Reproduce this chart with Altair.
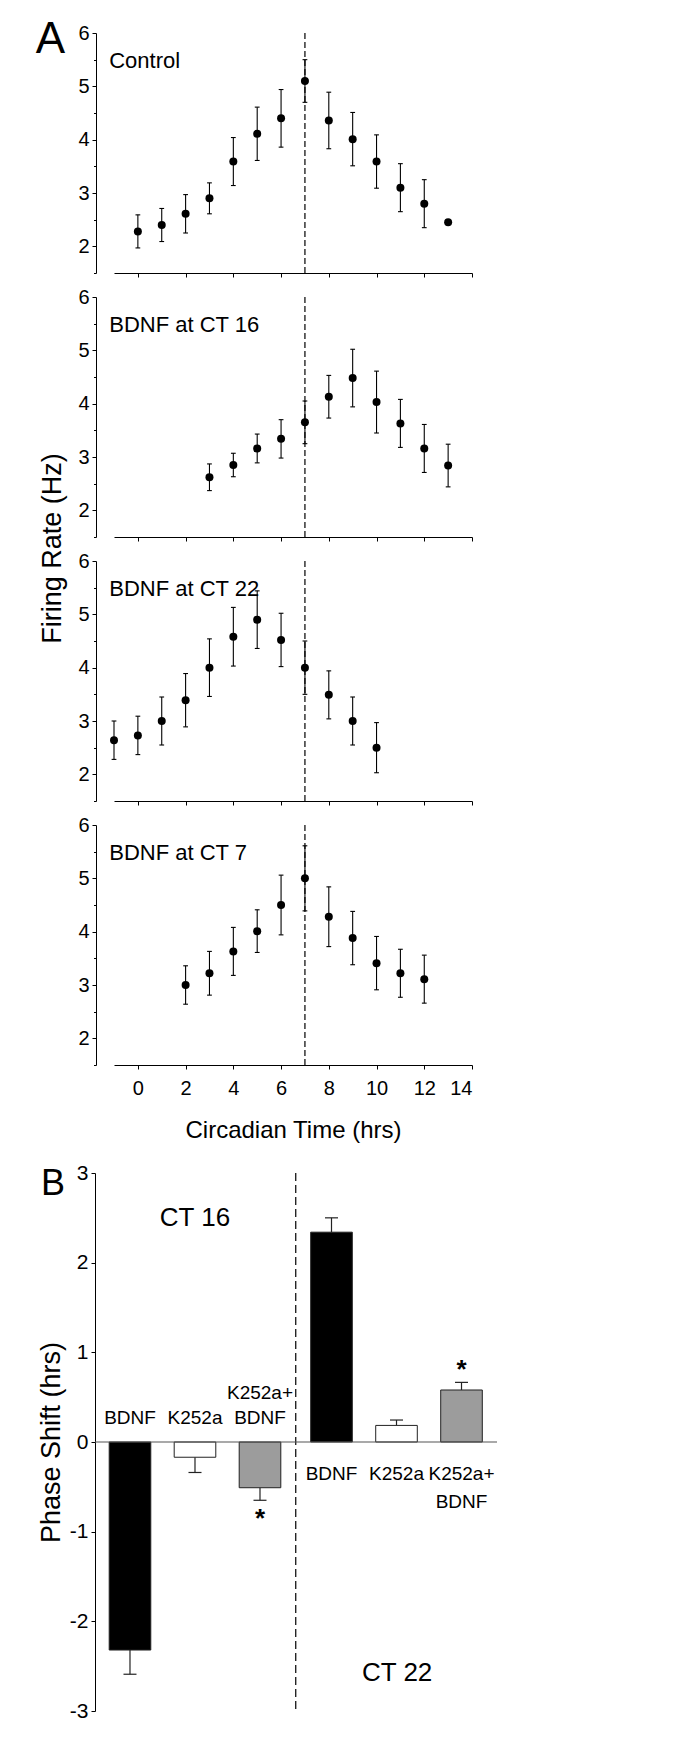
import altair as alt
import pandas as pd

FONT = "Liberation Sans, Arial, Helvetica, sans-serif"

# ---------------- Panel A data ----------------
x_ticks = [0, 2, 4, 6, 8, 10, 12, 14]
y_ticks = [1.5, 2, 2.5, 3, 3.5, 4, 4.5, 5, 5.5, 6]

ctrl_x = list(range(0, 14))
ctrl_y = [2.28, 2.40, 2.61, 2.90, 3.59, 4.11, 4.40, 5.10, 4.36, 4.01, 3.59, 3.10, 2.80, 2.45]
ctrl_e = [0.31, 0.31, 0.36, 0.29, 0.45, 0.50, 0.54, 0.40, 0.53, 0.50, 0.50, 0.45, 0.45, 0.0]

ct16_x = list(range(3, 14))
ct16_y = [2.62, 2.85, 3.16, 3.34, 3.65, 4.13, 4.48, 4.03, 3.63, 3.16, 2.84]
ct16_e = [0.25, 0.22, 0.27, 0.36, 0.40, 0.40, 0.54, 0.58, 0.45, 0.45, 0.40]

ct22_x = list(range(-1, 11))
ct22_y = [2.64, 2.73, 3.00, 3.39, 4.00, 4.58, 4.90, 4.52, 4.00, 3.49, 3.00, 2.50]
ct22_e = [0.36, 0.36, 0.45, 0.50, 0.54, 0.55, 0.54, 0.50, 0.50, 0.45, 0.45, 0.47]

ct7_x = list(range(2, 13))
ct7_y = [3.00, 3.22, 3.63, 4.01, 4.50, 5.00, 4.28, 3.88, 3.41, 3.22, 3.11]
ct7_e = [0.36, 0.41, 0.45, 0.40, 0.56, 0.61, 0.56, 0.50, 0.50, 0.45, 0.45]

panel_labels = ["Control", "BDNF at CT 16", "BDNF at CT 22", "BDNF at CT 7"]
label_ct = -1.2
label_rate = 5.47
dash_ct = 7
y_min, y_max = 1.5, 6

# ---------------- Panel B data ----------------
b_pos = [1, 2, 3, 4.1, 5.1, 6.1]
b_val = [-2.32, -0.17, -0.51, 2.34, 0.185, 0.58]
b_err = [0.27, 0.17, 0.14, 0.16, 0.06, 0.085]
b_fill = ["#000000", "#ffffff", "#9c9c9c", "#000000", "#ffffff", "#9c9c9c"]

b_lab_text = ["BDNF", "K252a", "K252a+", "BDNF", "BDNF", "K252a", "K252a+", "BDNF"]
b_lab_pos = [1, 2, 3, 3, 4.1, 5.1, 6.1, 6.1]
b_lab_y = [0.27, 0.27, 0.55, 0.27, -0.354, -0.354, -0.354, -0.67]

b_group_text = ["CT 16", "CT 22"]
b_group_pos = [2.0, 5.11]
b_group_y = [2.50, -2.58]

star_pos = [3, 6.1]
star_y = [-0.86, 0.80]

b_domain_x = [0.754, 6.646]
zero_from, zero_to = 0.4615, 6.646
b_dash_pos = 3.55


def x_axis(last):
    kw = dict(values=x_ticks, tickSize=4, domainColor="black", tickColor="black",
              labelFont=FONT, labelFontSize=20, labelColor="black", labelPadding=9,
              titleFont=FONT, titleFontSize=24, titleFontWeight="normal", titleColor="black",
              titlePadding=20, grid=False, labels=last)
    kw["title"] = "Circadian Time (hrs)" if last else None
    return alt.Axis(**kw)


def y_axis(with_title):
    kw = dict(values=y_ticks, offset=18,
              tickSize={"condition": {"test": "datum.value % 1 != 0", "value": 2.5}, "value": 4},
              labelExpr="datum.value % 1 == 0 ? format(datum.value, 'd') : ''",
              domainColor="black", tickColor="black",
              labelFont=FONT, labelFontSize=20, labelColor="black", labelPadding=3,
              grid=False)
    if with_title:
        kw.update(title="Firing Rate (Hz)", titleFont=FONT, titleFontSize=27,
                  titleFontWeight="normal", titleColor="black", titleY=251, titlePadding=11)
    else:
        kw["title"] = None
    return alt.Axis(**kw)


def panel(xs, ys, es, label, idx):
    last = idx == 3
    xscale = alt.Scale(domain=[-1, 14], nice=False, zero=False)
    yscale = alt.Scale(domain=[y_min, y_max], nice=False, zero=False)
    xa = x_axis(last)
    ya = y_axis(idx == 1)

    def X(f):
        return alt.X(f"{f}:Q", scale=xscale, axis=xa)

    def Y(f):
        return alt.Y(f"{f}:Q", scale=yscale, axis=ya)

    df = pd.DataFrame({"ct": xs, "rate": ys, "sem": es})
    base = alt.Chart(df).transform_calculate(
        lo="datum.rate - datum.sem", hi="datum.rate + datum.sem",
        cl="datum.ct - 0.1", cr="datum.ct + 0.1")

    dash = alt.Chart(pd.DataFrame({"ct": [dash_ct], "top": [y_max], "bot": [y_min]})).mark_rule(
        color="black", strokeWidth=1.2, strokeDash=[6, 3]).encode(x=X("ct"), y=Y("top"), y2="bot:Q")
    bars = base.mark_rule(color="black", strokeWidth=1.1).encode(x=X("ct"), y=Y("lo"), y2="hi:Q")
    cap_hi = base.mark_rule(color="black", strokeWidth=1.1).encode(x=X("cl"), x2="cr:Q", y=Y("hi"))
    cap_lo = base.mark_rule(color="black", strokeWidth=1.1).encode(x=X("cl"), x2="cr:Q", y=Y("lo"))
    pts = base.mark_circle(size=64, color="black", opacity=1).encode(x=X("ct"), y=Y("rate"))
    txt = alt.Chart(pd.DataFrame({"ct": [label_ct], "rate": [label_rate], "t": [label]})).mark_text(
        align="left", baseline="middle", font=FONT, fontSize=22, color="black").encode(
        x=X("ct"), y=Y("rate"), text="t:N")
    layers = [dash, bars, cap_hi, cap_lo, pts, txt]
    if idx == 0:
        big = alt.Chart(pd.DataFrame({"ct": [-3.66], "rate": [5.86], "t": ["A"]})).mark_text(
            align="center", baseline="middle", font=FONT, fontSize=44, color="black").encode(
            x=X("ct"), y=Y("rate"), text="t:N")
        layers.append(big)
    return alt.layer(*layers).properties(width=358, height=240)


panels = [
    panel(ctrl_x, ctrl_y, ctrl_e, panel_labels[0], 0),
    panel(ct16_x, ct16_y, ct16_e, panel_labels[1], 1),
    panel(ct22_x, ct22_y, ct22_e, panel_labels[2], 2),
    panel(ct7_x, ct7_y, ct7_e, panel_labels[3], 3),
]

# empty spacer between panel A and panel B
spacer = alt.Chart(pd.DataFrame({"v": [0]})).mark_point(opacity=0).encode(
    x=alt.X("v:Q", axis=None), y=alt.Y("v:Q", axis=None)).properties(width=10, height=60)

# ---------------- Panel B ----------------
bx = alt.Scale(domain=b_domain_x, nice=False, zero=False)
by = alt.Scale(domain=[-3, 3], nice=False, zero=False)
b_yaxis = alt.Axis(values=[-3, -2, -1, 0, 1, 2, 3], offset=19, tickSize=4, grid=False,
                   labelExpr="datum.value < 0 ? '-' + abs(datum.value) : datum.label",
                   domainColor="black", tickColor="black",
                   labelFont=FONT, labelFontSize=21, labelColor="black", labelPadding=3,
                   title="Phase Shift (hrs)", titleFont=FONT, titleFontSize=27,
                   titleFontWeight="normal", titleColor="black", titlePadding=4)


def BX(f):
    return alt.X(f"{f}:Q", scale=bx, axis=None)


def BY(f):
    return alt.Y(f"{f}:Q", scale=by, axis=b_yaxis)


bdf = pd.DataFrame({"pos": b_pos, "val": b_val, "err": b_err, "fill": b_fill})
bbase = alt.Chart(bdf).transform_calculate(
    l="datum.pos - 0.32", r="datum.pos + 0.32", zero="0",
    end="datum.val + (datum.val < 0 ? -datum.err : datum.err)",
    cl="datum.pos - 0.1", cr="datum.pos + 0.1")

b_zero = alt.Chart(pd.DataFrame({"a": [zero_from], "b": [zero_to], "y": [0]})).mark_rule(
    color="#555555", strokeWidth=1.2).encode(x=BX("a"), x2="b:Q", y=BY("y"))
b_dash = alt.Chart(pd.DataFrame({"p": [b_dash_pos], "t": [3], "b": [-3]})).mark_rule(
    color="black", strokeWidth=1.2, strokeDash=[8, 4]).encode(x=BX("p"), y=BY("t"), y2="b:Q")
b_err_rule = bbase.mark_rule(color="#222222", strokeWidth=1.2).encode(x=BX("pos"), y=BY("val"), y2="end:Q")
b_cap = bbase.mark_rule(color="#222222", strokeWidth=1.2).encode(x=BX("cl"), x2="cr:Q", y=BY("end"))
b_bars = bbase.mark_bar(stroke="#222222", strokeWidth=1).encode(
    x=BX("l"), x2="r:Q", y=BY("zero"), y2="val:Q", color=alt.Color("fill:N", scale=None))
b_labels = alt.Chart(pd.DataFrame({"p": b_lab_pos, "y": b_lab_y, "t": b_lab_text})).mark_text(
    align="center", baseline="middle", font=FONT, fontSize=19, color="black").encode(
    x=BX("p"), y=BY("y"), text="t:N")
b_groups = alt.Chart(pd.DataFrame({"p": b_group_pos, "y": b_group_y, "t": b_group_text})).mark_text(
    align="center", baseline="middle", font=FONT, fontSize=26, color="black").encode(
    x=BX("p"), y=BY("y"), text="t:N")
b_stars = alt.Chart(pd.DataFrame({"p": star_pos, "y": star_y, "t": ["*", "*"]})).mark_text(
    align="center", baseline="middle", font=FONT, fontSize=26, fontWeight="bold", color="black").encode(
    x=BX("p"), y=BY("y"), text="t:N")
b_big = alt.Chart(pd.DataFrame({"p": [-0.185], "y": [2.88], "t": ["B"]})).mark_text(
    align="center", baseline="middle", font=FONT, fontSize=36, color="black").encode(
    x=BX("p"), y=BY("y"), text="t:N")

panel_b = alt.layer(b_dash, b_err_rule, b_cap, b_bars, b_zero, b_labels, b_groups, b_stars, b_big).properties(
    width=383, height=538)

chart = alt.vconcat(*panels, spacer, panel_b, spacing=24, bounds="flush").properties(
    padding={"left": 27, "top": 10, "right": 5, "bottom": 5}
).configure_view(stroke=None)

chart.save("out.html", embed_options={"renderer": "svg", "actions": False})
